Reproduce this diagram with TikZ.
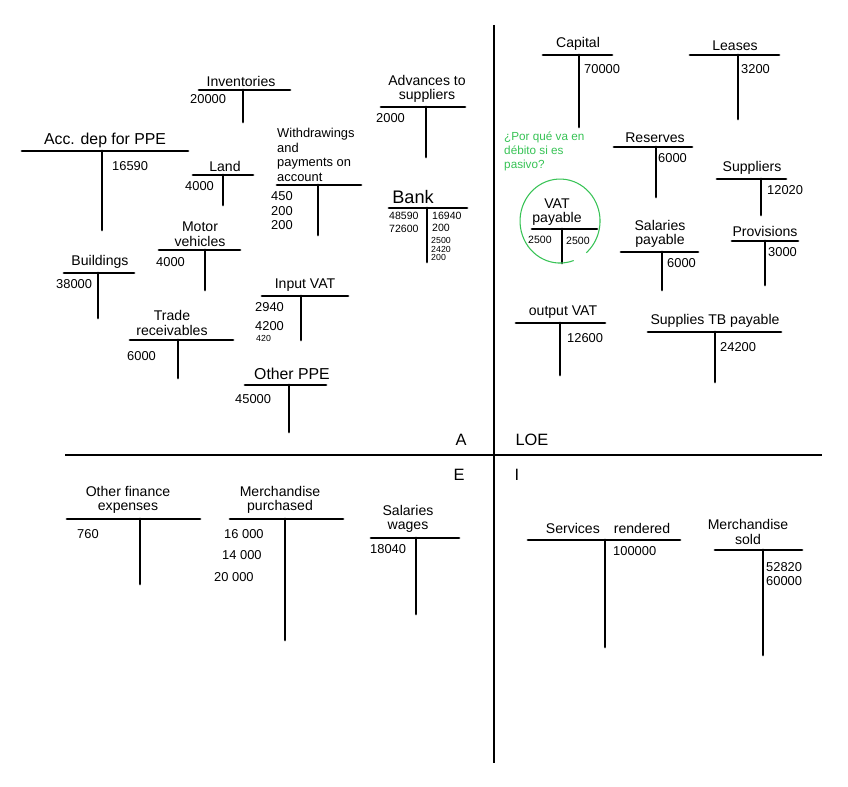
\documentclass[tikz,border=0pt]{standalone}
\usepackage{fontspec}
\setmainfont{Liberation Sans}
\definecolor{hgreen}{RGB}{55,195,85}
\newcommand{\tacc}[6]{%
  \coordinate (#1l) at (#3,#2);
  \coordinate (#1r) at (#4,#2);
  \coordinate (#1t) at (#5,#2);
  \coordinate (#1b) at (#5,#6);
  \draw[tline] (#1l) -- (#1r);
  \draw[tline] (#1t) -- (#1b);}
\begin{document}
\begin{tikzpicture}[x=0.03cm,y=-0.03cm,
  tline/.style={line width=2.4pt,line cap=round},
  axis/.style={line width=1.7pt},
  ttl/.style={font=\fontsize{12}{12.5}\selectfont,inner sep=0pt,align=center,anchor=south},
  num/.style={font=\fontsize{11}{12}\selectfont,inner sep=0pt,anchor=west},
  tnum/.style={font=\fontsize{7.5}{8}\selectfont,inner sep=0pt,anchor=west},
  quad/.style={font=\fontsize{14}{15}\selectfont,inner sep=0pt}]
\useasboundingbox (0,0) rectangle (848,786);
\fill[white] (0,0) rectangle (848,786);
% axes
\coordinate (vt) at (494,25); \coordinate (vb) at (494,763);
\coordinate (hl) at (65,455); \coordinate (hr) at (822,455);
\draw[axis] (vt) -- (vb);
\draw[axis] (hl) -- (hr);
\node[quad] (qa) at (461,440) {A};
\node[quad] (qloe) at (532,440) {LOE};
\node[quad] (qe) at (459,475) {E};
\node[quad] (qi) at (517,475) {I};
% ---------- Assets ----------
\tacc{inv}{90}{199}{290}{243}{122}
\node[ttl] (invT) at (241,87) {Inventories};
\node[num] (inv1) at (190,99) {20000};
\tacc{acc}{151}{22}{188}{102}{230}
\node[ttl,font=\fontsize{13.5}{14}\selectfont] (accT) at (105,148) {Acc. dep for PPE};
\node[num] (acc1) at (112,166) {16590};
\tacc{land}{175}{193}{253}{223}{205}
\node[ttl] (landT) at (225,172) {Land};
\node[num] (land1) at (185,186) {4000};
\tacc{adv}{107}{381}{465}{426}{157}
\node[ttl] (advT) at (427,103) {Advances to\\suppliers};
\node[num] (adv1) at (376,118) {2000};
\tacc{wd}{185}{277}{361}{318}{235}
\node[ttl,align=left,anchor=south west,font=\fontsize{11}{12.5}\selectfont] (wdT) at (277,182) {Withdrawings\\and\\payments on\\account};
\node[num] (wd1) at (271,196) {450};
\node[num] (wd2) at (271,211) {200};
\node[num] (wd3) at (271,225) {200};
\tacc{bank}{208}{389}{467}{427}{262}
\node[ttl,font=\fontsize{15.5}{16}\selectfont] (bankT) at (413,204) {Bank};
\node[tnum,font=\fontsize{9}{10}\selectfont] (bank1) at (389,216) {48590};
\node[tnum,font=\fontsize{9}{10}\selectfont] (bank2) at (389,229) {72600};
\node[tnum,font=\fontsize{9}{10}\selectfont] (bank3) at (432,216) {16940};
\node[tnum,font=\fontsize{9}{10}\selectfont] (bank4) at (432,228) {200};
\node[tnum] (bank5) at (431,240) {2500};
\node[tnum] (bank6) at (431,249) {2420};
\node[tnum] (bank7) at (431,257) {200};
\tacc{mv}{250}{159}{240}{205}{290}
\node[ttl] (mvT) at (200,247) {Motor\\vehicles};
\node[num] (mv1) at (156,262) {4000};
\tacc{bld}{273}{64}{134}{98}{318}
\node[ttl] (bldT) at (100,269) {Buildings};
\node[num] (bld1) at (56,284) {38000};
\tacc{ivat}{296}{262}{348}{301}{340}
\node[ttl] (ivatT) at (305,292) {Input VAT};
\node[num] (ivat1) at (255,307) {2940};
\node[num] (ivat2) at (255,326) {4200};
\node[tnum] (ivat3) at (256,338) {420};
\tacc{tr}{340}{130}{233}{178}{378}
\node[ttl] (trT) at (172,336) {Trade\\receivables};
\node[num] (tr1) at (127,356) {6000};
\tacc{oppe}{385}{245}{326}{289}{432}
\node[ttl,font=\fontsize{13.5}{14}\selectfont] (oppeT) at (292,380) {Other PPE};
\node[num] (oppe1) at (235,399) {45000};
% ---------- Liabilities & OE ----------
\tacc{cap}{55}{543}{612}{579}{127}
\node[ttl] (capT) at (578,51) {Capital};
\node[num] (cap1) at (584,69) {70000};
\tacc{lea}{55}{690}{779}{738}{119}
\node[ttl] (leaT) at (735,51) {Leases};
\node[num] (lea1) at (741,69) {3200};
\node[font=\fontsize{10}{12}\selectfont,text=hgreen,inner sep=0pt,align=left,anchor=north west] (note) at (504,132) {¿Por qué va en\\débito si es\\pasivo?};
\tacc{res}{147}{614}{692}{656}{197}
\node[ttl] (resT) at (655,143) {Reserves};
\node[num] (res1) at (658,158) {6000};
\tacc{sup}{179}{717}{786}{761}{215}
\node[ttl] (supT) at (752,175) {Suppliers};
\node[num] (sup1) at (767,190) {12020};
\tacc{vat}{229}{532}{597}{562}{263}
\node[ttl] (vatT) at (557,226) {VAT\\payable};
\node[tnum,font=\fontsize{9}{10}\selectfont] (vat1) at (528,240) {2500};
\node[tnum,font=\fontsize{9}{10}\selectfont] (vat2) at (566,241) {2500};
\draw[hgreen,line width=0.9pt] (573.7,260.5) arc[start angle=70,end angle=409,x radius=40,y radius=42];
\tacc{salp}{252}{621}{698}{662}{290}
\node[ttl] (salpT) at (660,248) {Salaries\\payable};
\node[num] (salp1) at (667,263) {6000};
\tacc{prov}{241}{732}{798}{765}{285}
\node[ttl] (provT) at (765,237) {Provisions};
\node[num] (prov1) at (768,252) {3000};
\tacc{ovat}{323}{516}{605}{560}{375}
\node[ttl] (ovatT) at (563,319) {output VAT};
\node[num] (ovat1) at (567,338) {12600};
\tacc{stb}{332}{648}{781}{715}{382}
\node[ttl] (stbT) at (715,328) {Supplies TB payable};
\node[num] (stb1) at (720,347) {24200};
% ---------- Expenses ----------
\tacc{ofe}{519}{67}{200}{140}{584}
\node[ttl] (ofeT) at (128,514) {Other finance\\expenses};
\node[num] (ofe1) at (77,534) {760};
\tacc{mp}{519}{230}{343}{285}{640}
\node[ttl] (mpT) at (280,514) {Merchandise\\purchased};
\node[num] (mp1) at (224,534) {16 000};
\node[num] (mp2) at (222,555) {14 000};
\node[num] (mp3) at (214,577) {20 000};
\tacc{sw}{538}{371}{459}{416}{614}
\node[ttl] (swT) at (408,533) {Salaries\\wages};
\node[num] (sw1) at (370,549) {18040};
% ---------- Income ----------
\tacc{sr}{540}{528}{680}{605}{647}
\node[ttl] (srT) at (608,534) {Services\quad rendered};
\node[num] (sr1) at (613,551) {100000};
\tacc{ms}{550}{715}{802}{763}{655}
\node[ttl] (msT) at (748,545) {Merchandise\\sold};
\node[num] (ms1) at (766,567) {52820};
\node[num] (ms2) at (766,581) {60000};
\end{tikzpicture}
\end{document}
